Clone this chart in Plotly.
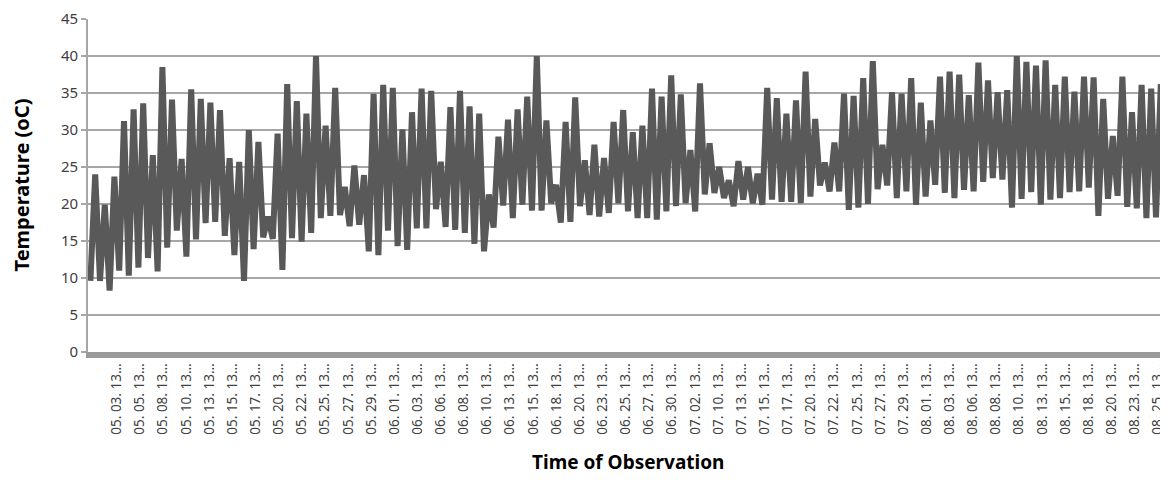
import pandas as pd
import plotly.graph_objects as go

# ---------------- data ----------------
period_1 = ("2013-04-30", "2013-07-03")
period_2 = ("2013-07-10", "2013-08-26")
obs_hours = ["05:00", "14:00"]          # daily low reading, daily high reading

daily_low = [
    9.6, 9.6, 8.3, 11.0, 10.3, 11.4, 12.7, 10.9, 14.1, 16.4,
    12.9, 15.2, 17.4, 17.6, 15.7, 13.1, 9.6, 13.9, 15.5, 15.3,
    11.1, 15.4, 14.9, 16.1, 18.1, 18.4, 18.5, 17.0, 17.2, 13.6,
    13.1, 16.4, 14.3, 13.8, 16.7, 16.7, 19.3, 16.9, 16.5, 16.1,
    14.6, 13.6, 16.8, 19.8, 18.1, 19.9, 19.1, 19.1, 20.1, 17.5,
    17.6, 19.7, 18.5, 18.3, 18.8, 20.1, 19.0, 18.1, 18.1, 17.9,
    19.0, 19.7, 20.1, 19.0, 21.3, 21.5, 20.8, 19.7, 20.6, 20.1,
    19.9, 20.6, 20.3, 20.3, 20.1, 21.0, 22.5, 21.7, 21.7, 19.2,
    19.5, 20.0, 22.0, 22.5, 20.8, 21.7, 19.9, 21.0, 22.6, 21.5,
    20.8, 21.9, 21.7, 23.0, 23.5, 23.3, 19.5, 20.7, 21.6, 19.9,
    20.6, 20.8, 21.6, 21.7, 22.2, 18.4, 20.7, 21.1, 19.6, 19.4,
    18.1, 18.2, 17.8,
]
daily_high = [
    24.0, 19.9, 23.7, 31.2, 32.8, 33.6, 26.6, 38.5, 34.1, 26.1,
    35.5, 34.2, 33.7, 32.7, 26.2, 25.7, 30.0, 28.4, 18.3, 29.5,
    36.2, 33.9, 32.2, 40.0, 30.6, 35.7, 22.3, 25.2, 23.9, 34.9,
    36.1, 35.7, 30.1, 32.4, 35.6, 35.3, 25.7, 33.1, 35.3, 33.2,
    32.2, 21.3, 29.1, 31.4, 32.8, 34.5, 40.0, 31.3, 22.6, 31.1,
    34.4, 25.9, 28.0, 26.2, 31.1, 32.7, 29.7, 30.6, 35.6, 34.5,
    37.4, 34.8, 27.3, 36.3, 28.2, 25.0, 23.2, 25.8, 25.0, 24.1,
    35.7, 34.3, 32.2, 34.0, 37.9, 31.5, 25.6, 28.3, 34.9, 34.6,
    37.0, 39.3, 28.0, 35.1, 34.9, 37.0, 33.7, 31.3, 37.2, 37.9,
    37.5, 34.7, 39.1, 36.7, 35.1, 35.4, 40.0, 39.2, 38.7, 39.4,
    36.1, 37.2, 35.2, 37.2, 37.1, 34.2, 29.2, 37.2, 32.4, 36.1,
    35.6, 36.2, 28.0,
]

tick_labels = [
    "05. 03. 13…", "05. 05. 13…", "05. 08. 13…", "05. 10. 13…", "05. 13. 13…",
    "05. 15. 13…", "05. 17. 13…", "05. 20. 13…", "05. 22. 13…", "05. 25. 13…",
    "05. 27. 13…", "05. 29. 13…", "06. 01. 13…", "06. 03. 13…", "06. 06. 13…",
    "06. 08. 13…", "06. 10. 13…", "06. 13. 13…", "06. 15. 13…", "06. 18. 13…",
    "06. 20. 13…", "06. 23. 13…", "06. 25. 13…", "06. 27. 13…", "06. 30. 13…",
    "07. 02. 13…", "07. 10. 13…", "07. 13. 13…", "07. 15. 13…", "07. 17. 13…",
    "07. 20. 13…", "07. 22. 13…", "07. 25. 13…", "07. 27. 13…", "07. 29. 13…",
    "08. 01. 13…", "08. 03. 13…", "08. 06. 13…", "08. 08. 13…", "08. 10. 13…",
    "08. 13. 13…", "08. 15. 13…", "08. 18. 13…", "08. 20. 13…", "08. 23. 13…",
    "08. 25. 13…",
]

# ---------------- build categories / series ----------------
days = list(pd.date_range(*period_1)) + list(pd.date_range(*period_2))
categories, temps = [], []
for day, lo, hi in zip(days, daily_low, daily_high):
    for hour, val in zip(obs_hours, (lo, hi)):
        categories.append(f"{day:%m. %d. %y} {hour}")
        temps.append(val)

label_first = 5.5      # category position of first axis label
label_step = 4.82      # categories between axis labels (Excel label interval)
tickvals = [label_first + k * label_step for k in range(len(tick_labels))]

FONT = "Noto Sans"
GRID = "#a6a6a6"

fig = go.Figure(
    go.Scatter(
        x=categories,
        y=temps,
        mode="lines",
        line=dict(color="#595959", width=6),
        hoverinfo="x+y",
    )
)

# page body has an 8px margin -> figure is 8px smaller than the window
fig.update_layout(
    width=1160,
    height=472,
    margin=dict(l=80, r=0, t=11, b=128),
    paper_bgcolor="white",
    plot_bgcolor="white",
    showlegend=False,
    font=dict(family=FONT, color="#404040"),
    annotations=[
        dict(text="<b>Temperature (oC)</b>", textangle=-90,
             x=0, xref="paper", xanchor="center", xshift=-67,
             y=0.5, yref="paper", yanchor="middle", showarrow=False,
             font=dict(size=20, color="#000000", family=FONT)),
        dict(text="<b>Time of Observation</b>",
             x=0.5, xref="paper", xanchor="center",
             y=0, yref="paper", yanchor="middle", yshift=-110, showarrow=False,
             font=dict(size=19, color="#000000", family=FONT)),
    ],
)

fig.update_xaxes(
    type="category",
    range=[-0.5, 224.5],
    tickmode="array",
    tickvals=tickvals,
    ticktext=tick_labels,
    tickangle=-90,
    tickfont=dict(size=13.5, color="#404040"),
    showgrid=False,
    showline=True,
    linecolor="#9a9a9a",
    linewidth=6,
    ticks="",
    automargin=False,
)

fig.update_yaxes(
    range=[0, 45],
    dtick=5,
    tick0=0,
    showgrid=True,
    gridcolor=GRID,
    gridwidth=1.6,
    zeroline=False,
    showline=True,
    linecolor=GRID,
    linewidth=1.6,
    ticks="outside",
    ticklen=5,
    tickwidth=1.6,
    tickcolor=GRID,
    tickfont=dict(size=15, color="#404040"),
    automargin=False,
)

fig.write_html("out.html")
